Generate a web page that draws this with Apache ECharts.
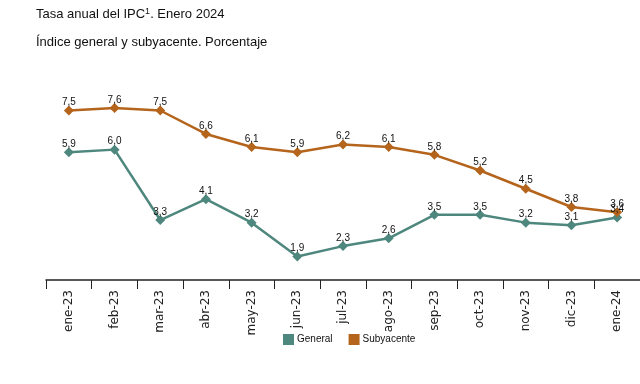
<!DOCTYPE html>
<html><head><meta charset="utf-8">
<script src="https://cdn.jsdelivr.net/npm/echarts@6/dist/echarts.min.js"></script>
<style>html,body{margin:0;padding:0;background:#fff}#c{width:640px;height:384px}</style>
</head><body><div id="c"></div>
<script>
const categories = ['ene-23','feb-23','mar-23','abr-23','may-23','jun-23','jul-23','ago-23','sep-23','oct-23','nov-23','dic-23','ene-24'];
const general = [5.9,6.0,3.3,4.1,3.2,1.9,2.3,2.6,3.5,3.5,3.2,3.1,3.4];
const subyacente = [7.5,7.6,7.5,6.6,6.1,5.9,6.2,6.1,5.8,5.2,4.5,3.8,3.6];
const colGen = '#4e877d';
const colSub = '#b5641c';
const chart = echarts.init(document.getElementById('c'));
function lbl(){return {show:true,position:'top',distance:-2,color:'#111',fontSize:10,fontFamily:'Liberation Sans',formatter:p=>p.value.toFixed(1).replace('.',',')};}
chart.setOption({
  animation:false,
  title:[
    {text:'Tasa anual del IPC{s|1}. Enero 2024',left:31,top:2,textStyle:{fontSize:13,fontWeight:'normal',color:'#111',fontFamily:'Liberation Sans',rich:{s:{fontSize:9,verticalAlign:'top',padding:[0,0,6,0],color:'#111',fontFamily:'Liberation Sans'}}}},
    {text:'Índice general y subyacente. Porcentaje',left:31,top:31,textStyle:{fontSize:13,fontWeight:'normal',color:'#111',fontFamily:'Liberation Sans'}}
  ],
  legend:{left:278,top:329,itemWidth:11,itemHeight:11,itemGap:16,icon:'rect',textStyle:{fontSize:10,color:'#111',fontFamily:'Liberation Sans',padding:[0,0,0,-2]},
    data:['General','Subyacente']},
  grid:{left:46,right:-4,top:71.4,bottom:104,containLabel:false},
  xAxis:{type:'category',data:categories,boundaryGap:true,
    axisLine:{lineStyle:{color:'#222',width:1.5}},
    axisTick:{show:true,length:9,lineStyle:{color:'#222'},alignWithLabel:false},
    axisLabel:{rotate:90,fontSize:12,color:'#222',fontFamily:'DejaVu Sans',margin:10,interval:0}},
  yAxis:{type:'value',min:1,max:9,show:false,splitLine:{show:false}},
  series:[
    {name:'General',type:'line',data:general,color:colGen,symbol:'diamond',symbolSize:10,lineStyle:{width:2.5,color:colGen},itemStyle:{color:colGen},label:lbl()},
    {name:'Subyacente',type:'line',data:subyacente,color:colSub,symbol:'diamond',symbolSize:10,lineStyle:{width:2.5,color:colSub},itemStyle:{color:colSub},label:lbl()}
  ]
});
</script></body></html>
